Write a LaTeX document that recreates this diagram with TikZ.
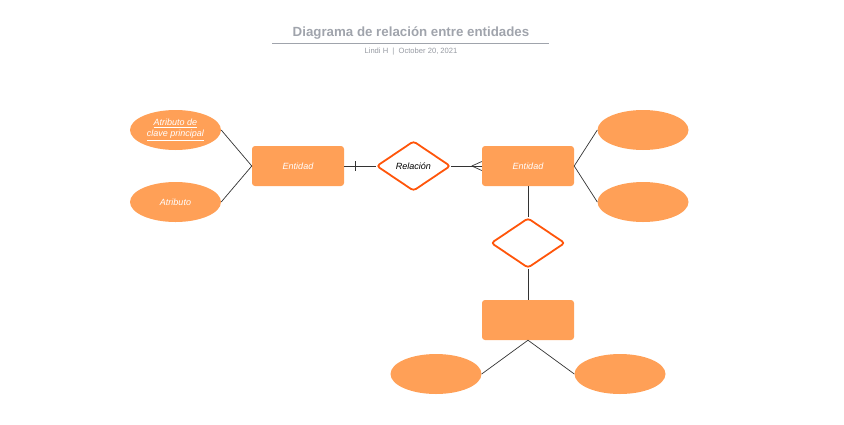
\documentclass[tikz,border=0pt]{standalone}
\usepackage{fontspec}
\setmainfont{Liberation Sans}
\usetikzlibrary{shapes.geometric,calc}
\definecolor{entfill}{RGB}{255,160,87}
\definecolor{relstroke}{RGB}{255,85,10}
\definecolor{titlegray}{RGB}{160,164,172}
\definecolor{subgray}{RGB}{150,154,162}
\definecolor{linkgray}{RGB}{51,51,51}
\tikzset{
  entity/.style={rectangle, rounded corners=3pt, fill=entfill, draw=none,
    minimum width=92pt, minimum height=40pt, inner sep=0pt,
    text=white, font=\fontsize{9}{11}\selectfont\itshape},
  attr/.style={ellipse, fill=entfill, draw=none,
    minimum width=91pt, minimum height=40pt, inner sep=0pt,
    text=white, font=\fontsize{9}{11}\selectfont\itshape, align=center},
  rel/.style={diamond, draw=relstroke, line width=1.8pt, fill=white,
    rounded corners=3pt, minimum width=74pt, minimum height=50pt, inner sep=0pt,
    text=black, font=\fontsize{9}{11}\selectfont\itshape},
  link/.style={draw=linkgray, line width=0.7pt},
}
\begin{document}
\begin{tikzpicture}[x=1pt,y=-1pt]
\useasboundingbox (0,0) rectangle (844,424);
% title
\node[font=\fontsize{13.3}{15}\selectfont\bfseries, text=titlegray] (title) at (411,33.5) {Diagrama de relación entre entidades};
\coordinate (tl) at (272,43.5);
\coordinate (tr) at (549,43.5);
\draw[titlegray, line width=0.8pt] (tl) -- (tr);
\node[font=\fontsize{7.6}{9}\selectfont, text=subgray] (sub) at (411,52) {Lindi H\ \ |\ \ October 20, 2021};
% nodes
\node[attr] (a1) at (175.5,130) {\underline{Atributo de}\\\underline{clave principal}};
\node[attr] (a2) at (175.5,202) {Atributo};
\node[entity] (e1) at (298,166) {Entidad};
\node[rel] (r1) at (413.5,166) {Relación};
\node[entity] (e2) at (528,166) {Entidad};
\node[attr] (a3) at (643,130) {};
\node[attr] (a4) at (643,202) {};
\node[rel] (r2) at (528,243) {};
\node[entity] (e3) at (528,320) {};
\node[attr] (a5) at (436,374) {};
\node[attr] (a6) at (620,374) {};
% connectors
\draw[link] (a1.east) -- (e1.west);
\draw[link] (a2.east) -- (e1.west);
\draw[link] (e2.east) -- (a3.west);
\draw[link] (e2.east) -- (a4.west);
\draw[link] (e1.east) -- (r1.west);
\draw[link] ($(e1.east)+(11,-5)$) -- ($(e1.east)+(11,5)$);
\draw[link] (r1.east) -- (e2.west);
\coordinate (cf) at ($(e2.west)+(-10,0)$);
\draw[link] (cf) -- ($(e2.west)+(0,-4.5)$);
\draw[link] (cf) -- ($(e2.west)+(0,4.5)$);
\draw[link] (e2.south) -- (r2.north);
\draw[link] (r2.south) -- (e3.north);
\draw[link] (e3.south) -- (a5.east);
\draw[link] (e3.south) -- (a6.west);
\end{tikzpicture}
\end{document}
